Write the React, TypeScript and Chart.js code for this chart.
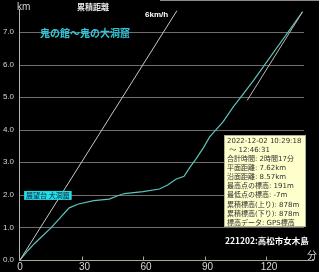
import React, { useEffect, useRef } from "react";
import { Chart, registerables } from "chart.js";

Chart.register(...registerables);

// ---- data ----
const trackMinutes = [0, 4, 7, 9, 15, 24, 28.5, 36, 43.5, 48, 51, 60, 68, 72, 76, 80, 83, 86, 89.5, 92.5, 99, 104, 109, 114, 137.8];
const trackKm = [0, 0.3, 0.5, 0.62, 0.98, 1.6, 1.72, 1.82, 1.87, 1.98, 2.04, 2.1, 2.18, 2.3, 2.48, 2.57, 2.86, 3.12, 3.45, 3.78, 4.24, 4.7, 5.11, 5.52, 7.62];
const paceStartMinutes = [0, 76.5];
const paceStartKm = [0, 7.65];
const paceEndMinutes = [110.8, 137.8];
const paceEndKm = [4.9, 7.62];
const yTickValues = [0, 1, 2, 3, 4, 5, 6, 7];
const xTickValues = [0, 30, 60, 90, 120];
const titleText = "鬼の館～鬼の大洞窟";
const yTitle = "km";
const chartTitle = "累積距離";
const xUnit = "分";
const paceLabel = "6km/h";
const waypointLabel = "展望台 大洞窟";
const waypointMinute = 2;
const waypointKm = 2.12;
const footerText = "221202:高松市女木島";
const infoLines = [
  "2022-12-02 10:29:18",
  " ～ 12:46:31",
  "合計時間: 2時間17分",
  "平面距離: 7.62km",
  "沿面距離: 8.57km",
  "最高点の標高: 191m",
  "最低点の標高: -7m",
  "累積標高(上り): 878m",
  "累積標高(下り): 878m",
  "標高データ: GPS標高",
];

const toPoints = (xs: number[], ys: number[]) => xs.map((v, i) => ({ x: v, y: ys[i] }));

const JP = '"Noto Sans CJK JP", sans-serif';
const LAT = '"Liberation Sans", Arial, sans-serif';
const MIX = '"DejaVu Sans", "Noto Sans CJK JP", sans-serif';

const overlay = {
  id: "overlay",
  beforeDatasetsDraw(chart: any) {
    const { ctx, scales } = chart;
    const x = scales.x;
    const y = scales.y;
    const x0 = x.getPixelForValue(0);
    const xEnd = x.getPixelForValue(x.max);
    ctx.save();
    // top frame segment
    ctx.strokeStyle = "#8a8a8a";
    ctx.lineWidth = 1;
    ctx.beginPath();
    ctx.moveTo(160, 0.5);
    ctx.lineTo(319, 0.5);
    ctx.stroke();
    // grid lines
    ctx.strokeStyle = "#6e6e6e";
    yTickValues.forEach((v) => {
      if (v === 0) return;
      const py = Math.round(y.getPixelForValue(v)) + 0.5;
      ctx.beginPath();
      ctx.moveTo(x0, py);
      ctx.lineTo(xEnd, py);
      ctx.stroke();
    });
    // y axis
    const y0 = Math.round(y.getPixelForValue(0)) + 0.5;
    ctx.strokeStyle = "#b4b4b4";
    ctx.beginPath();
    ctx.moveTo(Math.round(x0) - 0.5, 9);
    ctx.lineTo(Math.round(x0) - 0.5, y0);
    ctx.stroke();
    // x axis
    ctx.strokeStyle = "#a8a890";
    ctx.beginPath();
    ctx.moveTo(x0 - 1, y0);
    ctx.lineTo(xEnd + 10, y0);
    ctx.stroke();
    // ticks
    xTickValues.forEach((v) => {
      if (v === 0) return;
      const px = Math.round(x.getPixelForValue(v)) + 0.5;
      ctx.beginPath();
      ctx.moveTo(px, y0);
      ctx.lineTo(px, y0 - 4);
      ctx.stroke();
    });
    // y labels
    ctx.fillStyle = "#d8d8d8";
    ctx.font = `8px ${LAT}`;
    ctx.textAlign = "right";
    ctx.textBaseline = "middle";
    yTickValues.forEach((v) => {
      ctx.fillText(v.toFixed(1), 14, y.getPixelForValue(v));
    });
    // x labels
    ctx.font = `10px ${LAT}`;
    ctx.textAlign = "center";
    ctx.textBaseline = "top";
    xTickValues.forEach((v) => {
      ctx.fillText(String(v), x.getPixelForValue(v) + (v === 0 ? 0 : 3), y0 + 2);
    });
    ctx.restore();
  },
  afterDatasetsDraw(chart: any) {
    const { ctx, scales } = chart;
    const x = scales.x;
    const y = scales.y;
    const x0 = x.getPixelForValue(0);
    const xEnd = x.getPixelForValue(x.max);
    const y0 = y.getPixelForValue(0);
    ctx.save();
    // km label
    ctx.fillStyle = "#d0d0d0";
    ctx.font = `10px ${LAT}`;
    ctx.textAlign = "left";
    ctx.textBaseline = "middle";
    ctx.fillText(yTitle, x0 - 3, 7);
    // chart title
    ctx.font = `bold 8px ${JP}`;
    ctx.fillStyle = "#e8e8e8";
    ctx.fillText(chartTitle, 77, 7);
    // 6km/h label
    ctx.font = `bold 8px ${LAT}`;
    ctx.fillStyle = "#ffffff";
    ctx.fillText(paceLabel, 145, 15);
    // route title
    ctx.font = `bold 10px ${JP}`;
    ctx.fillStyle = "#2ec8dc";
    ctx.fillText(titleText, 40, 33);
    // x unit
    ctx.font = `10px ${JP}`;
    ctx.fillStyle = "#d0d0d0";
    ctx.fillText(xUnit, xEnd + 3, y0 - 5);
    // waypoint label
    const wx = x.getPixelForValue(waypointMinute);
    const wy = y.getPixelForValue(waypointKm);
    ctx.font = `7px ${JP}`;
    const ww = ctx.measureText(waypointLabel).width + 4;
    ctx.fillStyle = "#22dce6";
    ctx.fillRect(wx, wy, ww, 9);
    ctx.fillStyle = "#10203a";
    ctx.textBaseline = "middle";
    ctx.fillText(waypointLabel, wx + 2, wy + 4.5);
    // info box
    const bx = 224, by = 135, bw = 82, bh = 92;
    ctx.fillStyle = "#ffffcc";
    ctx.fillRect(bx, by, bw, bh);
    ctx.strokeStyle = "#b0b090";
    ctx.strokeRect(bx + 0.5, by + 0.5, bw - 1, bh - 1);
    ctx.fillStyle = "#303030";
    ctx.font = `7px ${MIX}`;
    ctx.textBaseline = "middle";
    infoLines.forEach((line, i) => {
      ctx.fillText(line, bx + 3, by + 6 + i * 9.1);
    });
    // footer
    ctx.font = `bold 8.5px ${JP}`;
    ctx.fillStyle = "#ffffff";
    ctx.fillText(footerText, 225, 241);
    ctx.restore();
  },
};

export default function App() {
  const ref = useRef<HTMLCanvasElement | null>(null);
  useEffect(() => {
    if (!ref.current) return;
    const chart = new Chart(ref.current, {
      type: "line",
      data: {
        datasets: [
          {
            data: toPoints(paceStartMinutes, paceStartKm),
            borderColor: "#c8c8c8",
            borderWidth: 1,
            pointRadius: 0,
            tension: 0,
          },
          {
            data: toPoints(paceEndMinutes, paceEndKm),
            borderColor: "#c0b8b8",
            borderWidth: 1,
            pointRadius: 0,
            tension: 0,
          },
          {
            data: toPoints(trackMinutes, trackKm),
            borderColor: "#5cc4bc",
            borderWidth: 1.2,
            pointRadius: 0,
            tension: 0,
          },
        ],
      },
      plugins: [overlay],
      options: {
        responsive: false,
        animation: false,
        layout: { padding: { left: 20, right: 15, top: 1, bottom: 12 } },
        plugins: { legend: { display: false }, tooltip: { enabled: false } },
        scales: {
          x: { type: "linear", min: 0, max: 138.5, display: false },
          y: { type: "linear", min: 0, max: 7.95, display: false },
        },
      },
    });
    return () => chart.destroy();
  }, []);
  return (
    <div style={{ position: "fixed", left: 0, top: 0, width: 319, height: 272, background: "#000" }}>
      <canvas ref={ref} width={319} height={272} style={{ display: "block" }} />
    </div>
  );
}
